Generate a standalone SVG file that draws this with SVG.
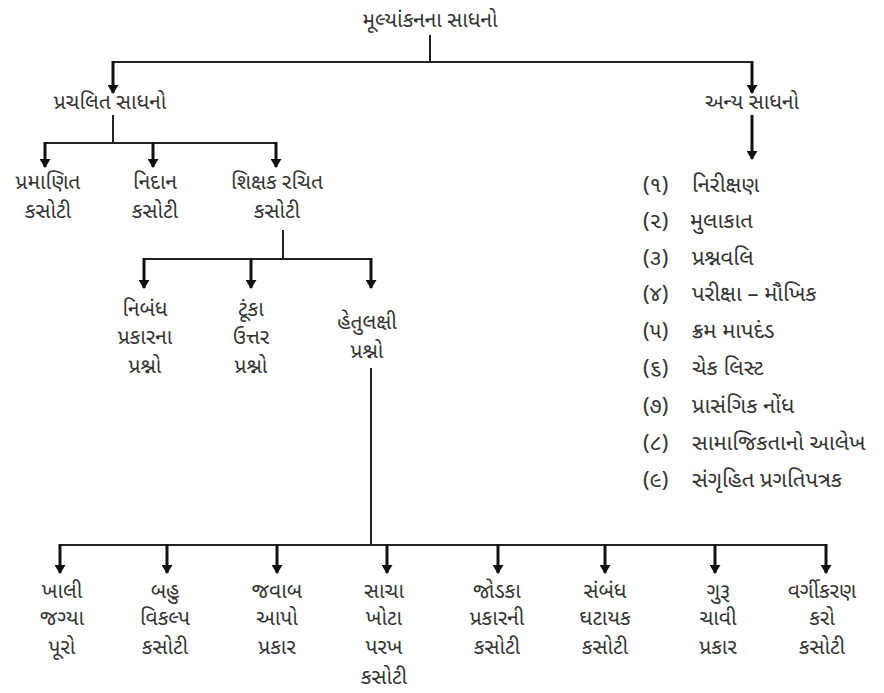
<svg xmlns="http://www.w3.org/2000/svg" width="884" height="693" viewBox="0 0 884 693">
<defs>
<marker id="ah" markerWidth="9" markerHeight="11" refX="8" refY="5.5" orient="auto" markerUnits="userSpaceOnUse" viewBox="0 0 9 11">
<path d="M0,0 L9,5.5 L0,11 Z" fill="#111"/>
</marker>
</defs>
<style>
text{font-family:"Noto Sans Gujarati","Lohit Gujarati","Noto Sans",sans-serif;font-size:21px;fill:#333;text-anchor:middle}
.l{text-anchor:start;font-size:22px}
.c{stroke:#222;stroke-width:2;fill:none}
.a{stroke:#111;stroke-width:3;fill:none;marker-end:url(#ah)}
</style>
<rect width="884" height="693" fill="#fff"/>
<g id="connectors">
<path class="c" d="M430,35 V62 M113,62 H752"/>
<path class="a" d="M113,61 V93"/>
<path class="a" d="M752,61 V93"/>
<path class="c" d="M113,115 V143 M45,143 H276"/>
<path class="a" d="M45,142 V167"/>
<path class="a" d="M153,142 V167"/>
<path class="a" d="M276,142 V167"/>
<path class="a" d="M752,115 V159"/>
<path class="c" d="M283,230 V259 M144,259 H372"/>
<path class="a" d="M144,258 V288"/>
<path class="a" d="M251,258 V288"/>
<path class="a" d="M371,258 V288"/>
<path class="c" d="M371,368 V545 M60,545 H827"/>
<path class="a" d="M60,544 V573"/>
<path class="a" d="M167,544 V573"/>
<path class="a" d="M277,544 V573"/>
<path class="a" d="M387,544 V573"/>
<path class="a" d="M498,544 V573"/>
<path class="a" d="M605,544 V573"/>
<path class="a" d="M715,544 V573"/>
<path class="a" d="M826,544 V573"/>
</g>
<g id="root"><text x="430" y="27">મૂલ્યાંકનના સાધનો</text></g>
<g id="prachalit"><text x="110" y="109">પ્રચલિત સાધનો</text></g>
<g id="anya"><text x="752" y="109">અન્ય સાધનો</text></g>
<g id="pramanit"><text x="48" y="189">પ્રમાણિત</text><text x="48" y="218">કસોટી</text></g>
<g id="nidan"><text x="155" y="189">નિદાન</text><text x="155" y="218">કસોટી</text></g>
<g id="shikshak"><text x="277" y="189">શિક્ષક રચિત</text><text x="277" y="218">કસોટી</text></g>
<g id="nibandh"><text x="145" y="316">નિબંધ</text><text x="145" y="344">પ્રકારના</text><text x="145" y="373">પ્રશ્નો</text></g>
<g id="tunka"><text x="251" y="316">ટૂંકા</text><text x="251" y="344">ઉત્તર</text><text x="251" y="373">પ્રશ્નો</text></g>
<g id="hetulakshi"><text x="367" y="329">હેતુલક્ષી</text><text x="367" y="358">પ્રશ્નો</text></g>
<g id="list">
<text class="l" x="643" y="192">(૧)</text><text class="l" x="692" y="192">નિરીક્ષણ</text>
<text class="l" x="643" y="228">(૨)</text><text class="l" x="690" y="228">મુલાકાત</text>
<text class="l" x="643" y="265">(૩)</text><text class="l" x="692" y="265">પ્રશ્નવલિ</text>
<text class="l" x="643" y="301">(૪)</text><text class="l" x="692" y="301">પરીક્ષા – મૌખિક</text>
<text class="l" x="643" y="338">(૫)</text><text class="l" x="692" y="338">ક્રમ માપદંડ</text>
<text class="l" x="643" y="375">(૬)</text><text class="l" x="692" y="375">ચેક લિસ્ટ</text>
<text class="l" x="643" y="413">(૭)</text><text class="l" x="692" y="413">પ્રાસંગિક નોંધ</text>
<text class="l" x="643" y="450">(૮)</text><text class="l" x="692" y="450">સામાજિકતાનો આલેખ</text>
<text class="l" x="643" y="487">(૯)</text><text class="l" x="692" y="487">સંગૃહિત પ્રગતિપત્રક</text>
</g>
<g id="b1"><text x="62" y="598">ખાલી</text><text x="62" y="625">જગ્યા</text><text x="62" y="654">પૂરો</text></g>
<g id="b2"><text x="165" y="598">બહુ</text><text x="165" y="625">વિકલ્પ</text><text x="165" y="654">કસોટી</text></g>
<g id="b3"><text x="277" y="598">જવાબ</text><text x="277" y="625">આપો</text><text x="277" y="654">પ્રકાર</text></g>
<g id="b4"><text x="384" y="598">સાચા</text><text x="384" y="625">ખોટા</text><text x="384" y="654">પરખ</text><text x="384" y="684">કસોટી</text></g>
<g id="b5"><text x="497" y="598">જોડકા</text><text x="497" y="625">પ્રકારની</text><text x="497" y="654">કસોટી</text></g>
<g id="b6"><text x="605" y="598">સંબંધ</text><text x="605" y="625">ઘટાયક</text><text x="605" y="654">કસોટી</text></g>
<g id="b7"><text x="718" y="598">ગુરૂ</text><text x="718" y="625">ચાવી</text><text x="718" y="654">પ્રકાર</text></g>
<g id="b8"><text x="822" y="598">વર્ગીકરણ</text><text x="822" y="625">કરો</text><text x="822" y="654">કસોટી</text></g>
</svg>
